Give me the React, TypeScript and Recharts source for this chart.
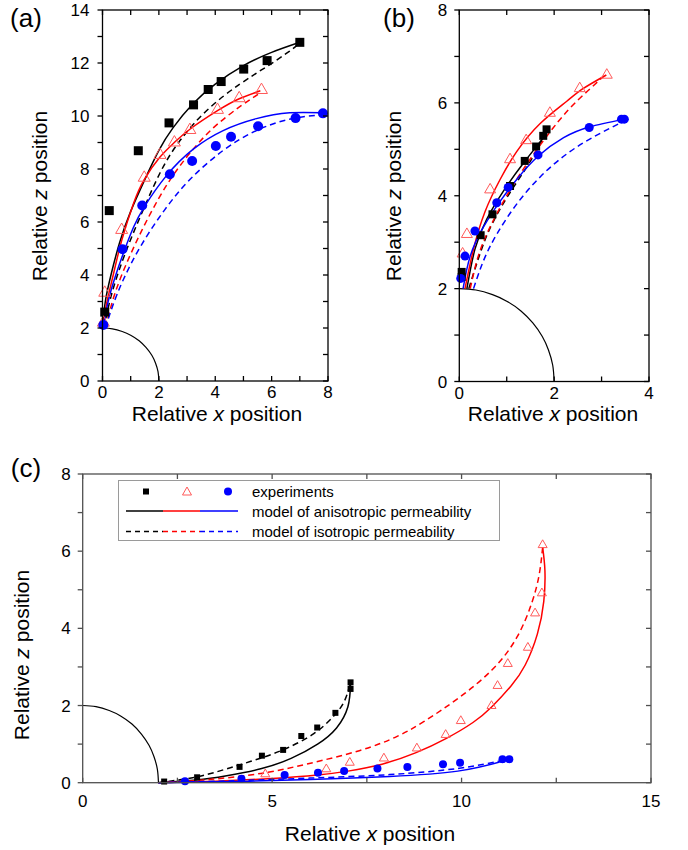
import React from 'react';
import { ScatterChart, Scatter, XAxis, YAxis } from 'recharts';

const FONT = '"Liberation Sans", Arial, Helvetica, sans-serif';

// ---------- panel (a) ----------
const aSquares = [
  { x: 0.08, y: 2.6 }, { x: 0.24, y: 6.43 }, { x: 1.27, y: 8.69 }, { x: 2.36, y: 9.74 },
  { x: 3.23, y: 10.42 }, { x: 3.75, y: 11.0 }, { x: 4.21, y: 11.3 }, { x: 5.01, y: 11.77 },
  { x: 5.84, y: 12.09 }, { x: 7.0, y: 12.78 },
];
const aTriangles = [
  { x: 0.03, y: 2.2 }, { x: 0.08, y: 3.33 }, { x: 0.68, y: 5.7 }, { x: 1.48, y: 7.67 },
  { x: 2.04, y: 8.53 }, { x: 2.55, y: 9.0 }, { x: 3.1, y: 9.47 }, { x: 4.08, y: 10.23 },
  { x: 4.85, y: 10.67 }, { x: 5.64, y: 10.98 },
];
const aCircles = [
  { x: 0.03, y: 2.11 }, { x: 0.71, y: 4.97 }, { x: 1.41, y: 6.62 }, { x: 2.39, y: 7.8 },
  { x: 3.18, y: 8.3 }, { x: 4.02, y: 8.87 }, { x: 4.56, y: 9.22 }, { x: 5.52, y: 9.61 },
  { x: 6.85, y: 9.92 }, { x: 7.82, y: 10.1 },
];
const aBlackSolid = [
  { x: 0, y: 2 }, { x: 0.1, y: 3.0 }, { x: 0.3, y: 4.0 }, { x: 0.6, y: 5.2 }, { x: 1.0, y: 6.4 },
  { x: 1.5, y: 7.6 }, { x: 2.0, y: 8.7 }, { x: 2.5, y: 9.55 }, { x: 3.2, y: 10.45 }, { x: 4.0, y: 11.2 },
  { x: 5.0, y: 11.9 }, { x: 6.0, y: 12.4 }, { x: 7.0, y: 12.78 },
];
const aBlackDash = [
  { x: 0.05, y: 2 }, { x: 0.33, y: 3.3 }, { x: 0.8, y: 4.8 }, { x: 1.4, y: 6.35 }, { x: 2.04, y: 7.85 },
  { x: 2.7, y: 9.0 }, { x: 3.69, y: 10.2 }, { x: 4.87, y: 11.2 }, { x: 5.82, y: 11.86 },
  { x: 6.64, y: 12.45 }, { x: 6.95, y: 12.72 },
];
const aRedSolid = [
  { x: 0.03, y: 2 }, { x: 0.12, y: 2.8 }, { x: 0.38, y: 4.0 }, { x: 0.68, y: 5.3 }, { x: 1.1, y: 6.7 },
  { x: 1.48, y: 7.6 }, { x: 2.04, y: 8.45 }, { x: 2.55, y: 9.0 }, { x: 3.1, y: 9.5 },
  { x: 4.08, y: 10.2 }, { x: 4.85, y: 10.65 }, { x: 5.6, y: 10.95 },
];
const aRedDash = [
  { x: 0.1, y: 2 }, { x: 0.44, y: 3.3 }, { x: 0.92, y: 4.6 }, { x: 1.45, y: 5.8 }, { x: 2.0, y: 6.9 },
  { x: 2.5, y: 7.75 }, { x: 3.1, y: 8.6 }, { x: 3.93, y: 9.55 }, { x: 4.87, y: 10.35 }, { x: 5.58, y: 10.86 },
];
const aBlueSolid = [
  { x: 0.03, y: 2.05 }, { x: 0.2, y: 3.0 }, { x: 0.44, y: 3.9 }, { x: 0.75, y: 4.85 }, { x: 1.1, y: 5.8 },
  { x: 1.5, y: 6.6 }, { x: 2.27, y: 7.75 }, { x: 3.22, y: 8.75 }, { x: 4.28, y: 9.45 },
  { x: 5.46, y: 9.9 }, { x: 6.64, y: 10.12 }, { x: 7.82, y: 10.12 },
];
const aBlueDash = [
  { x: 0.1, y: 2 }, { x: 0.35, y: 2.8 }, { x: 0.75, y: 3.85 }, { x: 1.39, y: 5.15 }, { x: 2.2, y: 6.45 },
  { x: 3.1, y: 7.6 }, { x: 4.28, y: 8.7 }, { x: 5.46, y: 9.45 }, { x: 6.64, y: 9.88 }, { x: 7.8, y: 10.05 },
];

// ---------- panel (b) ----------
const bSquares = [
  { x: 0.05, y: 2.25 }, { x: 0.05, y: 2.36 }, { x: 0.45, y: 3.15 }, { x: 0.7, y: 3.6 },
  { x: 1.07, y: 4.21 }, { x: 1.38, y: 4.75 }, { x: 1.62, y: 5.06 }, { x: 1.77, y: 5.29 }, { x: 1.84, y: 5.43 },
];
const bTriangles = [
  { x: 0.07, y: 2.75 }, { x: 0.16, y: 3.17 }, { x: 0.65, y: 4.13 }, { x: 1.07, y: 4.78 },
  { x: 1.41, y: 5.19 }, { x: 1.91, y: 5.78 }, { x: 2.54, y: 6.31 }, { x: 3.11, y: 6.6 },
];
const bCircles = [
  { x: 0.03, y: 2.22 }, { x: 0.12, y: 2.7 }, { x: 0.33, y: 3.24 }, { x: 0.79, y: 3.85 },
  { x: 1.03, y: 4.18 }, { x: 1.66, y: 4.88 }, { x: 2.74, y: 5.47 }, { x: 3.42, y: 5.65 }, { x: 3.48, y: 5.65 },
];
const bBlackSolid = [
  { x: 0.16, y: 2 }, { x: 0.33, y: 2.85 }, { x: 0.58, y: 3.5 }, { x: 0.93, y: 4.1 },
  { x: 1.35, y: 4.7 }, { x: 1.77, y: 5.25 }, { x: 1.88, y: 5.45 },
];
const bBlackDash = [
  { x: 0.2, y: 2 }, { x: 0.47, y: 2.85 }, { x: 0.72, y: 3.45 }, { x: 1.07, y: 4.07 },
  { x: 1.49, y: 4.73 }, { x: 1.87, y: 5.43 },
];
const bRedSolid = [
  { x: 0.12, y: 2 }, { x: 0.3, y: 2.85 }, { x: 0.54, y: 3.65 }, { x: 0.86, y: 4.35 }, { x: 1.21, y: 4.95 },
  { x: 1.7, y: 5.55 }, { x: 2.26, y: 6.03 }, { x: 2.6, y: 6.3 }, { x: 3.1, y: 6.6 },
];
const bRedDash = [
  { x: 0.23, y: 2 }, { x: 0.4, y: 2.7 }, { x: 0.65, y: 3.33 }, { x: 1.0, y: 4.0 }, { x: 1.42, y: 4.68 },
  { x: 1.88, y: 5.33 }, { x: 2.3, y: 5.85 }, { x: 2.7, y: 6.25 }, { x: 3.05, y: 6.58 },
];
const bBlueSolid = [
  { x: 0.08, y: 2 }, { x: 0.23, y: 2.7 }, { x: 0.51, y: 3.33 }, { x: 0.86, y: 3.88 }, { x: 1.21, y: 4.35 },
  { x: 1.66, y: 4.85 }, { x: 2.2, y: 5.25 }, { x: 2.74, y: 5.48 }, { x: 3.48, y: 5.65 },
];
const bBlueDash = [
  { x: 0.3, y: 2 }, { x: 0.51, y: 2.6 }, { x: 0.79, y: 3.17 }, { x: 1.21, y: 3.82 }, { x: 1.7, y: 4.4 },
  { x: 2.2, y: 4.85 }, { x: 2.75, y: 5.22 }, { x: 3.42, y: 5.58 },
];

// ---------- panel (c) ----------
const cSquares = [
  { x: 2.15, y: 0.03 }, { x: 3.02, y: 0.14 }, { x: 4.14, y: 0.41 }, { x: 4.73, y: 0.7 },
  { x: 5.29, y: 0.85 }, { x: 5.77, y: 1.21 }, { x: 6.19, y: 1.43 }, { x: 6.67, y: 1.81 },
  { x: 7.07, y: 2.43 }, { x: 7.07, y: 2.6 },
];
const cTriangles = [
  { x: 4.82, y: 0.22 }, { x: 6.43, y: 0.35 }, { x: 7.05, y: 0.52 }, { x: 7.95, y: 0.63 },
  { x: 8.82, y: 0.89 }, { x: 9.58, y: 1.24 }, { x: 9.98, y: 1.6 }, { x: 10.79, y: 1.99 },
  { x: 10.95, y: 2.51 }, { x: 11.22, y: 3.08 }, { x: 11.75, y: 3.5 }, { x: 11.94, y: 4.39 },
  { x: 12.12, y: 4.91 }, { x: 12.14, y: 6.16 },
];
const cCircles = [
  { x: 2.7, y: 0.04 }, { x: 4.19, y: 0.1 }, { x: 5.33, y: 0.2 }, { x: 6.21, y: 0.26 },
  { x: 6.9, y: 0.3 }, { x: 7.78, y: 0.37 }, { x: 8.57, y: 0.41 }, { x: 9.51, y: 0.48 },
  { x: 9.96, y: 0.52 }, { x: 11.08, y: 0.61 }, { x: 11.26, y: 0.61 },
];
const cBlackSolid = [
  { x: 2, y: 0 }, { x: 3, y: 0.07 }, { x: 3.8, y: 0.18 }, { x: 4.7, y: 0.36 }, { x: 5.5, y: 0.63 },
  { x: 6.2, y: 1.0 }, { x: 6.7, y: 1.42 }, { x: 7.0, y: 1.97 }, { x: 7.07, y: 2.55 },
];
const cBlackDash = [
  { x: 2, y: 0 }, { x: 2.9, y: 0.13 }, { x: 3.6, y: 0.3 }, { x: 4.2, y: 0.48 }, { x: 4.8, y: 0.67 },
  { x: 5.4, y: 0.9 }, { x: 6.1, y: 1.27 }, { x: 6.6, y: 1.7 }, { x: 6.9, y: 2.1 }, { x: 7.07, y: 2.6 },
];
const cRedSolid = [
  { x: 2, y: 0 }, { x: 3.5, y: 0.04 }, { x: 5, y: 0.11 }, { x: 6.2, y: 0.2 }, { x: 7, y: 0.3 },
  { x: 7.9, y: 0.48 }, { x: 8.8, y: 0.78 }, { x: 9.6, y: 1.15 }, { x: 10.3, y: 1.56 }, { x: 10.8, y: 1.97 },
  { x: 11.3, y: 2.5 }, { x: 11.68, y: 3.05 }, { x: 12.0, y: 3.85 }, { x: 12.17, y: 4.7 },
  { x: 12.2, y: 5.5 }, { x: 12.14, y: 6.1 },
];
const cRedDash = [
  { x: 2, y: 0 }, { x: 3.3, y: 0.08 }, { x: 4.7, y: 0.24 }, { x: 5.9, y: 0.48 }, { x: 7.3, y: 0.83 },
  { x: 8.3, y: 1.2 }, { x: 9.0, y: 1.58 }, { x: 9.9, y: 2.18 }, { x: 10.8, y: 2.92 }, { x: 11.45, y: 3.75 },
  { x: 11.85, y: 4.65 }, { x: 12.05, y: 5.4 }, { x: 12.14, y: 6.1 },
];
const cBlueSolid = [
  { x: 2, y: 0 }, { x: 4, y: 0.03 }, { x: 6, y: 0.08 }, { x: 8.1, y: 0.16 }, { x: 9.9, y: 0.3 },
  { x: 11.1, y: 0.56 },
];
const cBlueDash = [
  { x: 2, y: 0 }, { x: 4, y: 0.05 }, { x: 6, y: 0.12 }, { x: 8.1, y: 0.21 }, { x: 9.9, y: 0.37 },
  { x: 11.1, y: 0.58 },
];

// quarter circle of radius 2 (same in every panel)
const sphere = [
  { x: 0, y: 2 }, { x: 0.35, y: 1.97 }, { x: 0.7, y: 1.87 }, { x: 1.0, y: 1.73 }, { x: 1.3, y: 1.52 },
  { x: 1.55, y: 1.26 }, { x: 1.75, y: 0.97 }, { x: 1.88, y: 0.68 }, { x: 1.97, y: 0.35 }, { x: 2, y: 0 },
];

const abTicks8 = [0, 1, 2, 3, 4, 5, 6, 7, 8];
const aYTicks = [0, 1, 2, 3, 4, 5, 6, 7, 8, 9, 10, 11, 12, 13, 14];
const bXTicks = [0, 1, 2, 3, 4];
const cXTicks = [0, 2.5, 5, 7.5, 10, 12.5, 15];

const aX = [0, 8];
const aY = [0, 14];
const bX = [0, 4];
const bY = [0, 8];
const cX = [0, 15];
const cY = [0, 8];

const BLACK = '#000000';
const RED = '#ff0000';
const TRI = '#ff5a5a';
const BLUE = '#0000ff';
const GREY = '#505050';
const TICK_FS = 17;
const TICK_LEN = 5;

// chart boxes: [left, top, width, height] of each ScatterChart and its axis sizes
const A = { left: 0, top: 0, w: 345, h: 430, mt: 10, mr: 17, yW: 102.5, xH: 49 };
const B = { left: 345, top: 0, w: 343, h: 430, mt: 10, mr: 39, yW: 114.3, xH: 48.5 };
const C = { left: 0, top: 440, w: 688, h: 410, mt: 34, mr: 37, yW: 82.7, xH: 67.3 };

const blank = () => <g />;
const squareShape = (s: number) => (p: any) => (
  <rect x={p.cx - s / 2} y={p.cy - s / 2} width={s} height={s} fill={BLACK} />
);
const circleShape = (r: number) => (p: any) => <circle cx={p.cx} cy={p.cy} r={r} fill={BLUE} />;
const triShape = (s: number) => (p: any) => {
  const h = s * 0.866;
  return (
    <polygon
      points={`${p.cx},${p.cy - (h * 2) / 3} ${p.cx - s / 2},${p.cy + h / 3} ${p.cx + s / 2},${p.cy + h / 3}`}
      fill="none"
      stroke={TRI}
      strokeWidth={1}
    />
  );
};
const shapes = {
  sq9: squareShape(9), sq8: squareShape(8), sq6: squareShape(6),
  tr12: triShape(12), tr11: triShape(11), tr9: triShape(9),
  ci5: circleShape(5), ci45: circleShape(4.5), ci4: circleShape(4),
};

function curve(data: any[], color: string, dashed: boolean, width = 1.5) {
  return (
    <Scatter
      data={data}
      fill="none"
      line={{ stroke: color, strokeWidth: width, strokeDasharray: dashed ? '6 4' : undefined, fill: 'none' }}
      lineType="joint"
      lineJointType="natural"
      shape={blank}
      isAnimationActive={false}
    />
  );
}

function marks(data: any[], shape: any) {
  return <Scatter data={data} shape={shape} isAnimationActive={false} />;
}

const even = (v: number) => (v % 2 === 0 ? String(v) : '');
const five = (v: number) => (v % 5 === 0 ? String(v) : '');

// tick labels (text only) for bottom / left axes
const bottomLabel = (fmt: (v: number) => string) => (p: any) => {
  const label = fmt(p.payload.value);
  if (label === '') return <g />;
  return (
    <text x={p.x} y={p.y + TICK_FS * 0.72} textAnchor="middle" fontSize={TICK_FS} fontFamily={FONT} fill={BLACK}>
      {label}
    </text>
  );
};
const leftLabel = (fmt: (v: number) => string) => (p: any) => {
  const label = fmt(p.payload.value);
  if (label === '') return <g />;
  return (
    <text x={p.x} y={p.y + TICK_FS * 0.36} textAnchor="end" fontSize={TICK_FS} fontFamily={FONT} fill={BLACK}>
      {label}
    </text>
  );
};
const bottomEven = bottomLabel(even);
const bottomFive = bottomLabel(five);
const leftEven = leftLabel(even);

// frame + tick marks around one plot area (left/bottom/top/right like the original figure)
function Frame({ box, xd, yd, xt, yt, color }: { box: typeof A; xd: number[]; yd: number[]; xt: number[]; yt: number[]; color: string }) {
  const l = box.left + box.yW;
  const r = box.left + box.w - box.mr;
  const t = box.top + box.mt;
  const b = box.top + box.h - box.xH;
  const px = (v: number) => l + ((v - xd[0]) / (xd[1] - xd[0])) * (r - l);
  const py = (v: number) => b - ((v - yd[0]) / (yd[1] - yd[0])) * (b - t);
  return (
    <g stroke={color} strokeWidth={1.3} fill="none">
      <rect x={l} y={t} width={r - l} height={b - t} />
      {xt.map((v) => (
        <g key={`x${v}`}>
          <line x1={px(v)} y1={b} x2={px(v)} y2={b - TICK_LEN} />
          <line x1={px(v)} y1={t} x2={px(v)} y2={t + TICK_LEN} />
        </g>
      ))}
      {yt.map((v) => (
        <g key={`y${v}`}>
          <line x1={l} y1={py(v)} x2={l - TICK_LEN} y2={py(v)} />
          <line x1={r} y1={py(v)} x2={r - TICK_LEN} y2={py(v)} />
        </g>
      ))}
    </g>
  );
}

const titleStyle: React.CSSProperties = {
  position: 'absolute',
  fontFamily: FONT,
  fontSize: 21,
  lineHeight: '24px',
  color: BLACK,
  whiteSpace: 'nowrap',
};

function XTitle({ cx, cy }: { cx: number; cy: number }) {
  return (
    <div style={{ ...titleStyle, left: cx, top: cy, transform: 'translate(-50%, -50%)' }}>
      Relative <i>x</i> position
    </div>
  );
}
function ZTitle({ cx, cy }: { cx: number; cy: number }) {
  return (
    <div style={{ ...titleStyle, left: cx, top: cy, transform: 'translate(-50%, -50%) rotate(-90deg)' }}>
      Relative <i>z</i> position
    </div>
  );
}
function PanelTag({ text, cx, cy }: { text: string; cx: number; cy: number }) {
  return (
    <div style={{ ...titleStyle, fontSize: 26, lineHeight: '30px', left: cx, top: cy, transform: 'translate(-50%, -50%)' }}>
      {text}
    </div>
  );
}

function Legend3() {
  const ty = [17, 36.5, 57];
  return (
    <svg width={383} height={62} style={{ position: 'absolute', left: 118, top: 480 }}>
      <rect x={0.5} y={0.5} width={381} height={60} fill="#ffffff" stroke="#9a9a9a" strokeWidth={1} />
      <rect x={25} y={8.5} width={6} height={6} fill={BLACK} />
      <polygon points="69,7 64.5,15 73.5,15" fill="none" stroke={TRI} strokeWidth={1} />
      <circle cx={110} cy={11.5} r={4} fill={BLUE} />
      <line x1={8} y1={31} x2={45} y2={31} stroke={BLACK} strokeWidth={1.5} />
      <line x1={45} y1={31} x2={82} y2={31} stroke={RED} strokeWidth={1.5} />
      <line x1={82} y1={31} x2={120} y2={31} stroke={BLUE} strokeWidth={1.5} />
      <line x1={8} y1={51.5} x2={45} y2={51.5} stroke={BLACK} strokeWidth={1.3} strokeDasharray="5 4" />
      <line x1={45} y1={51.5} x2={82} y2={51.5} stroke={RED} strokeWidth={1.3} strokeDasharray="5 4" />
      <line x1={82} y1={51.5} x2={120} y2={51.5} stroke={BLUE} strokeWidth={1.3} strokeDasharray="5 4" />
      <text x={134} y={ty[0]} fontFamily={FONT} fontSize={15} fill={BLACK}>experiments</text>
      <text x={134} y={ty[1]} fontFamily={FONT} fontSize={15} fill={BLACK}>model of anisotropic permeability</text>
      <text x={134} y={ty[2]} fontFamily={FONT} fontSize={15} fill={BLACK}>model of isotropic permeability</text>
    </svg>
  );
}

export default function App() {
  return (
    <div style={{ position: 'absolute', left: 0, top: 0, width: 688, height: 850, background: '#ffffff', overflow: 'hidden' }}>
      {/* (a) */}
      <div style={{ position: 'absolute', left: A.left, top: A.top }}>
        <ScatterChart width={A.w} height={A.h} margin={{ top: A.mt, right: A.mr, bottom: 0, left: 0 }}>
          <XAxis type="number" dataKey="x" domain={aX} ticks={abTicks8} interval={0} tick={bottomEven}
            tickSize={0} tickMargin={5} height={A.xH} axisLine={false} tickLine={false} />
          <YAxis type="number" dataKey="y" domain={aY} ticks={aYTicks} interval={0} tick={leftEven}
            tickSize={0} tickMargin={13} width={A.yW} axisLine={false} tickLine={false} />
          {curve(sphere, BLACK, false, 1.2)}
          {curve(aBlackSolid, BLACK, false)}
          {curve(aBlackDash, BLACK, true)}
          {curve(aRedSolid, RED, false)}
          {curve(aRedDash, RED, true)}
          {curve(aBlueSolid, BLUE, false)}
          {curve(aBlueDash, BLUE, true)}
          {marks(aSquares, shapes.sq9)}
          {marks(aTriangles, shapes.tr12)}
          {marks(aCircles, shapes.ci5)}
        </ScatterChart>
      </div>
      {/* (b) */}
      <div style={{ position: 'absolute', left: B.left, top: B.top }}>
        <ScatterChart width={B.w} height={B.h} margin={{ top: B.mt, right: B.mr, bottom: 0, left: 0 }}>
          <XAxis type="number" dataKey="x" domain={bX} ticks={bXTicks} interval={0} tick={bottomEven}
            tickSize={0} tickMargin={5} height={B.xH} axisLine={false} tickLine={false} />
          <YAxis type="number" dataKey="y" domain={bY} ticks={abTicks8} interval={0} tick={leftEven}
            tickSize={0} tickMargin={12} width={B.yW} axisLine={false} tickLine={false} />
          {curve(sphere, BLACK, false, 1.2)}
          {curve(bBlackSolid, BLACK, false)}
          {curve(bBlackDash, BLACK, true)}
          {curve(bRedSolid, RED, false)}
          {curve(bRedDash, RED, true)}
          {curve(bBlueSolid, BLUE, false)}
          {curve(bBlueDash, BLUE, true)}
          {marks(bSquares, shapes.sq8)}
          {marks(bTriangles, shapes.tr11)}
          {marks(bCircles, shapes.ci45)}
        </ScatterChart>
      </div>
      {/* (c) */}
      <div style={{ position: 'absolute', left: C.left, top: C.top }}>
        <ScatterChart width={C.w} height={C.h} margin={{ top: C.mt, right: C.mr, bottom: 0, left: 0 }}>
          <XAxis type="number" dataKey="x" domain={cX} ticks={cXTicks} interval={0} tick={bottomFive}
            tickSize={0} tickMargin={12} height={C.xH} axisLine={false} tickLine={false} />
          <YAxis type="number" dataKey="y" domain={cY} ticks={abTicks8} interval={0} tick={leftEven}
            tickSize={0} tickMargin={12} width={C.yW} axisLine={false} tickLine={false} />
          {curve(sphere, BLACK, false, 1.2)}
          {curve(cBlackSolid, BLACK, false)}
          {curve(cBlackDash, BLACK, true)}
          {curve(cRedSolid, RED, false)}
          {curve(cRedDash, RED, true)}
          {curve(cBlueSolid, BLUE, false)}
          {curve(cBlueDash, BLUE, true)}
          {marks(cSquares, shapes.sq6)}
          {marks(cTriangles, shapes.tr9)}
          {marks(cCircles, shapes.ci4)}
        </ScatterChart>
      </div>
      {/* axis frames with inward/outward ticks, matching the original figure */}
      <svg width={688} height={850} style={{ position: 'absolute', left: 0, top: 0, pointerEvents: 'none' }}>
        <Frame box={A} xd={aX} yd={aY} xt={abTicks8} yt={aYTicks} color={BLACK} />
        <Frame box={B} xd={bX} yd={bY} xt={bXTicks} yt={abTicks8} color={BLACK} />
        <Frame box={C} xd={cX} yd={cY} xt={cXTicks} yt={abTicks8} color={GREY} />
      </svg>
      <Legend3 />
      <PanelTag text="(a)" cx={26} cy={18} />
      <PanelTag text="(b)" cx={399} cy={18} />
      <PanelTag text="(c)" cx={26} cy={468} />
      <ZTitle cx={40} cy={196} />
      <XTitle cx={217} cy={414} />
      <ZTitle cx={394} cy={196} />
      <XTitle cx={553} cy={414} />
      <ZTitle cx={22} cy={655} />
      <XTitle cx={370} cy={834} />
    </div>
  );
}
